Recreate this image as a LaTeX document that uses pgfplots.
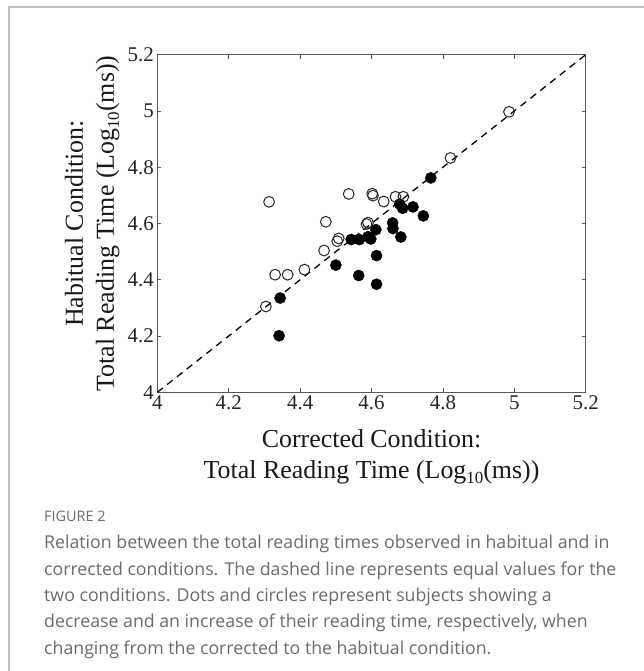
\documentclass[border=0pt]{standalone}
\usepackage{pgfplots}
\pgfplotsset{compat=1.18}
\usepackage{fontspec}
\setmainfont{Liberation Serif}
\newfontfamily\capfont{Open Sans}
\newcommand{\sub}[1]{\raisebox{-0.45ex}{\fontsize{17}{17}\selectfont #1}}

\begin{document}
\begin{tikzpicture}[x=1bp,y=1bp]
\useasboundingbox (0,0) rectangle (644,671);
\draw[black!25, line width=1.2bp] (9,0) -- (9,664) -- (644,664);
\begin{axis}[
  at={(157.3bp,278.7bp)}, anchor=south west,
  scale only axis, width=428.5bp, height=337.6bp,
  xmin=4, xmax=5.2, ymin=4, ymax=5.2,
  xtick={4,4.2,4.4,4.6,4.8,5,5.2},
  ytick={4,4.2,4.4,4.6,4.8,5,5.2},
  tick align=inside, major tick length=4bp,
  axis line style={black!65, line width=1bp},
  tick style={black!65, line width=0.8bp},
  /pgf/number format/assume math mode=true,
  ticklabel style={font=\fontsize{21}{25}\selectfont, text=black!85},
  xlabel={Corrected Condition:\\Total Reading Time (Log\sub{10}(ms))},
  ylabel={Habitual Condition:\\Total Reading Time (Log\sub{10}(ms))},
  label style={font=\fontsize{26}{31}\selectfont, align=center, text=black!90},
  xlabel style={at={(axis description cs:0.5,0)}, anchor=north, inner sep=0pt, yshift=-37bp},
  ylabel style={at={(axis description cs:-0.088,0.5)}, anchor=south, inner sep=0pt, rotate=0},
  clip=false,
]
\addplot[black, line width=1.3bp, dash pattern=on 7bp off 5.5bp] coordinates {(4,4) (5.2,5.2)};
\addplot[only marks, mark=*, mark size=5.6bp, black] coordinates {
(4.766,4.762) (4.679,4.669) (4.687,4.654) (4.716,4.659) (4.745,4.627)
(4.659,4.602) (4.660,4.582) (4.682,4.552) (4.612,4.578) (4.598,4.545)
(4.590,4.553) (4.566,4.543) (4.543,4.543) (4.614,4.486) (4.500,4.452)
(4.564,4.415) (4.614,4.384) (4.344,4.335) (4.341,4.201)
};
\addplot[only marks, mark=o, mark size=5.4bp, black!85, mark options={line width=1bp}] coordinates {
(4.985,4.997) (4.821,4.833) (4.313,4.677) (4.536,4.705) (4.602,4.706)
(4.604,4.699) (4.634,4.678) (4.667,4.695) (4.689,4.695) (4.472,4.606)
(4.586,4.598) (4.590,4.603) (4.508,4.547) (4.504,4.537) (4.467,4.504)
(4.330,4.418) (4.365,4.418) (4.412,4.436) (4.304,4.305)
};
\end{axis}
\begin{scope}[every node/.style={anchor=base west, inner sep=0pt, text=black!58}]
\node[font=\capfont\fontsize{14.5}{17}\selectfont] at (44,671-522) {FIGURE 2};
\node[font=\capfont\fontsize{17.8}{22}\selectfont] at (44,671-549) {Relation between the total reading times observed in habitual and in};
\node[font=\capfont\fontsize{17.8}{22}\selectfont] at (44,671-576) {corrected conditions. The dashed line represents equal values for the};
\node[font=\capfont\fontsize{17.8}{22}\selectfont] at (44,671-602) {two conditions. Dots and circles represent subjects showing a};
\node[font=\capfont\fontsize{17.8}{22}\selectfont] at (44,671-628) {decrease and an increase of their reading time, respectively, when};
\node[font=\capfont\fontsize{17.8}{22}\selectfont] at (44,671-655) {changing from the corrected to the habitual condition.};
\end{scope}
\end{tikzpicture}
\end{document}
